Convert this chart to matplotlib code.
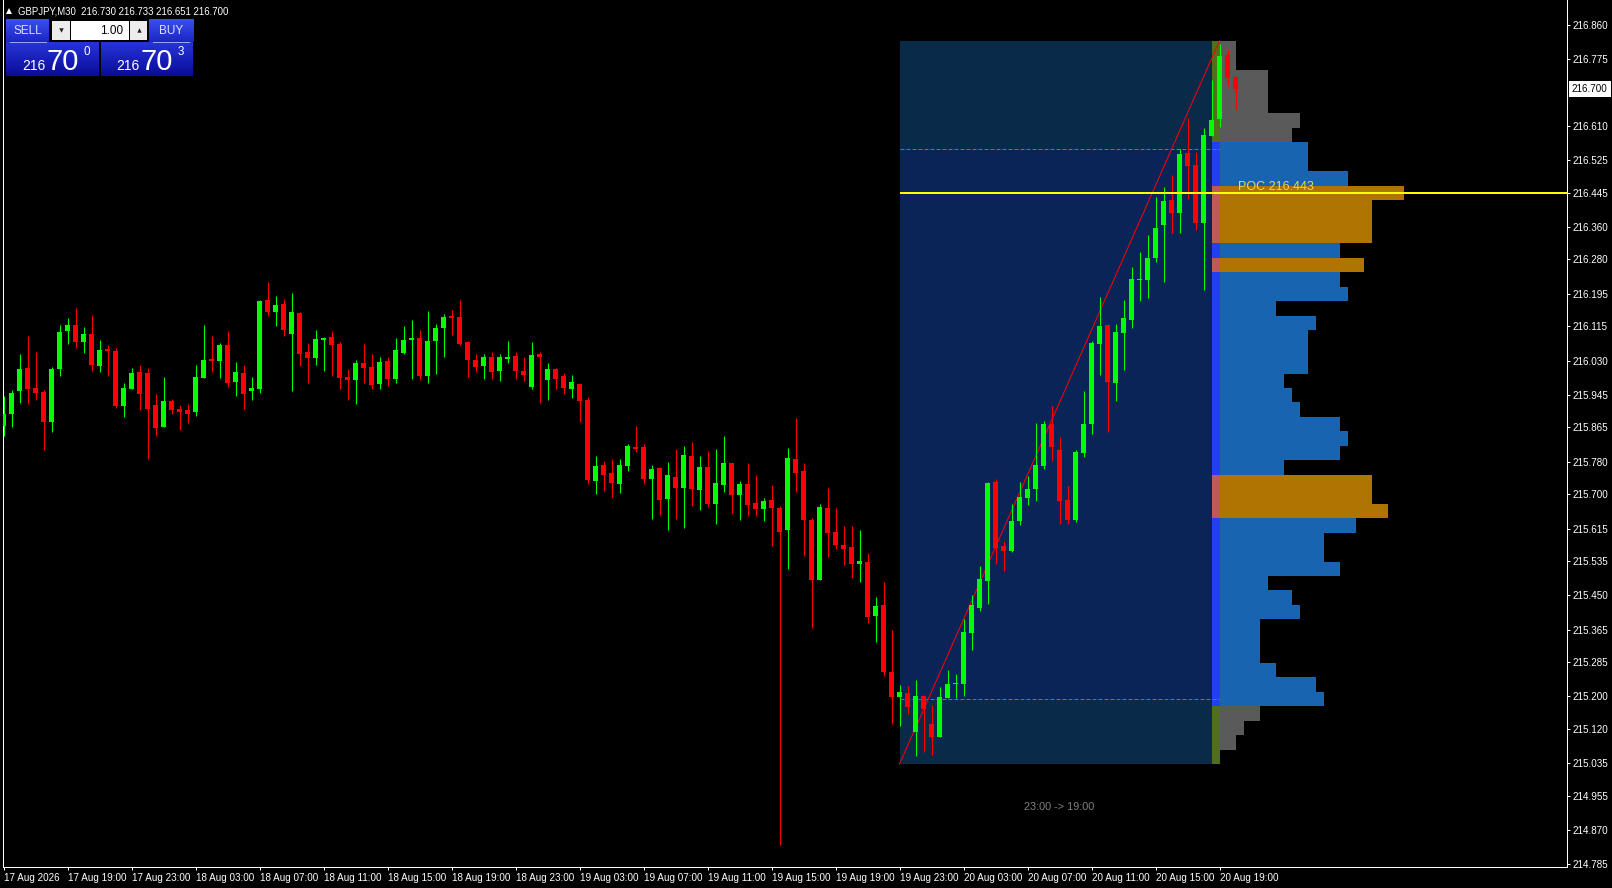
import matplotlib
matplotlib.use("Agg")
import matplotlib.pyplot as plt
import matplotlib.transforms as mtransforms
from matplotlib.patches import Rectangle
from matplotlib.colors import LinearSegmentedColormap
import numpy as np

plt.rcParams['font.family'] = ['Liberation Sans', 'DejaVu Sans']

# ---------------- data ----------------
symbol = "GBPJPY,M30"
last_ohlc = [216.730, 216.733, 216.651, 216.700]

opens = [215.868, 215.898, 215.955, 216.011, 215.962, 215.952, 215.878, 216.009, 216.103, 216.117,
         216.076, 216.095, 216.017, 216.058, 216.053, 215.918, 215.960, 216.001, 215.999, 215.920,
         215.866, 215.929, 215.910, 215.907, 215.903, 215.987, 216.033, 216.029, 216.068, 215.977,
         215.999, 215.955, 215.960, 216.179, 216.150, 216.169, 216.096, 216.147, 216.051, 216.037,
         216.082, 216.088, 216.071, 215.989, 215.983, 216.024, 216.014, 215.973, 216.029, 215.985,
         216.049, 216.082, 216.086, 215.993, 216.078, 216.110, 216.140, 216.138, 216.076, 216.031,
         216.017, 216.039, 216.005, 216.035, 216.041, 216.004, 215.965, 216.046, 215.983, 216.009,
         215.992, 215.960, 215.972, 215.932, 215.733, 215.772, 215.752, 215.725, 215.769, 215.816,
         215.816, 215.738, 215.764, 215.688, 215.742, 215.716, 215.794, 215.711, 215.767, 215.676,
         215.723, 215.777, 215.698, 215.725, 215.678, 215.664, 215.686, 215.666, 215.612, 215.786,
         215.757, 215.636, 215.488, 215.666, 215.607, 215.575, 215.570, 215.528, 215.533, 215.399,
         215.426, 215.261, 215.199, 215.208, 215.112, 215.201, 215.132, 215.100, 215.196, 215.230,
         215.231, 215.356, 215.418, 215.485, 215.730, 215.571, 215.559, 215.633, 215.690, 215.712,
         215.769, 215.873, 215.809, 215.685, 215.636, 215.802, 215.874, 216.072, 216.118, 215.975,
         216.099, 216.131, 216.228, 216.230, 216.284, 216.366, 216.427, 216.395, 216.543, 216.513,
         216.371, 216.585, 216.628, 216.785, 216.730]
highs = [215.942, 215.957, 216.046, 216.090, 216.051, 215.957, 216.013, 216.117, 216.135, 216.159,
         216.112, 216.142, 216.080, 216.068, 216.060, 215.974, 216.011, 216.018, 216.011, 215.947,
         215.989, 215.934, 215.920, 215.922, 216.018, 216.117, 216.090, 216.073, 216.102, 216.026,
         216.018, 215.989, 216.179, 216.224, 216.189, 216.182, 216.196, 216.150, 216.073, 216.105,
         216.088, 216.103, 216.076, 216.009, 216.031, 216.071, 216.046, 216.039, 216.039, 216.086,
         216.115, 216.130, 216.105, 216.152, 216.120, 216.145, 216.155, 216.180, 216.078, 216.046,
         216.046, 216.051, 216.046, 216.078, 216.051, 216.039, 216.076, 216.051, 216.024, 216.011,
         215.999, 215.994, 215.972, 215.940, 215.794, 215.781, 215.786, 215.786, 215.823, 215.868,
         215.823, 215.772, 215.767, 215.779, 215.811, 215.819, 215.828, 215.794, 215.806, 215.811,
         215.843, 215.777, 215.732, 215.777, 215.747, 215.691, 215.722, 215.671, 215.814, 215.889,
         215.777, 215.641, 215.676, 215.716, 215.666, 215.622, 215.622, 215.612, 215.555, 215.446,
         215.483, 215.365, 215.228, 215.225, 215.240, 215.203, 215.178, 215.223, 215.265, 215.255,
         215.392, 215.450, 215.522, 215.730, 215.737, 215.584, 215.675, 215.730, 215.744, 215.875,
         215.880, 215.917, 215.841, 215.720, 215.810, 215.954, 216.078, 216.187, 216.118, 216.120,
         216.180, 216.261, 216.298, 216.340, 216.434, 216.459, 216.489, 216.553, 216.629, 216.545,
         216.605, 216.723, 216.812, 216.798, 216.733]
lows = [215.844, 215.866, 215.925, 215.923, 215.933, 215.809, 215.854, 215.992, 216.071, 216.061,
        216.049, 216.004, 216.002, 215.992, 215.913, 215.891, 215.960, 215.908, 215.787, 215.844,
        215.866, 215.898, 215.859, 215.876, 215.893, 215.987, 216.002, 215.987, 215.965, 215.943,
        215.910, 215.933, 215.950, 216.140, 216.116, 216.091, 215.955, 216.017, 215.975, 216.020,
        216.005, 215.993, 215.960, 215.933, 215.923, 215.975, 215.960, 215.960, 215.968, 215.975,
        216.046, 215.985, 215.983, 215.975, 215.997, 216.039, 216.094, 216.069, 215.990, 216.002,
        215.985, 215.985, 215.980, 216.025, 215.985, 215.980, 215.960, 215.926, 215.933, 215.960,
        215.948, 215.938, 215.879, 215.725, 215.701, 215.708, 215.693, 215.703, 215.758, 215.805,
        215.725, 215.639, 215.649, 215.612, 215.639, 215.617, 215.671, 215.661, 215.669, 215.627,
        215.706, 215.654, 215.636, 215.646, 215.646, 215.634, 215.572, 214.832, 215.515, 215.706,
        215.547, 215.370, 215.488, 215.545, 215.565, 215.525, 215.493, 215.483, 215.382, 215.335,
        215.251, 215.132, 215.127, 215.157, 215.053, 215.063, 215.056, 215.100, 215.196, 215.196,
        215.201, 215.314, 215.411, 215.428, 215.528, 215.510, 215.556, 215.623, 215.673, 215.683,
        215.762, 215.781, 215.627, 215.627, 215.630, 215.792, 215.849, 215.995, 215.854, 215.931,
        216.007, 216.111, 216.178, 216.185, 216.274, 216.225, 216.346, 216.346, 216.430, 216.353,
        216.205, 216.585, 216.606, 216.709, 216.651]
closes = [215.899, 215.949, 216.009, 215.960, 215.950, 215.878, 216.009, 216.100, 216.117, 216.076,
          216.095, 216.019, 216.056, 216.054, 215.918, 215.962, 215.999, 215.948, 215.910, 215.864,
          215.929, 215.908, 215.903, 215.898, 215.989, 216.031, 216.029, 216.068, 215.975, 216.001,
          215.948, 215.962, 216.177, 216.150, 216.167, 216.106, 216.149, 216.046, 216.037, 216.083,
          216.086, 216.069, 215.988, 215.983, 216.024, 216.012, 215.970, 216.026, 215.985, 216.056,
          216.081, 216.086, 215.993, 216.078, 216.110, 216.138, 216.136, 216.072, 216.032, 216.014,
          216.039, 216.002, 216.039, 216.039, 216.005, 215.995, 216.044, 216.039, 216.009, 215.985,
          215.963, 215.977, 215.931, 215.736, 215.769, 215.747, 215.728, 215.772, 215.819, 215.812,
          215.737, 215.762, 215.686, 215.747, 215.716, 215.796, 215.713, 215.767, 215.676, 215.727,
          215.777, 215.698, 215.725, 215.673, 215.664, 215.683, 215.666, 215.607, 215.789, 215.753,
          215.636, 215.488, 215.669, 215.604, 215.575, 215.565, 215.528, 215.535, 215.397, 215.424,
          215.261, 215.199, 215.210, 215.173, 215.201, 215.168, 215.100, 215.198, 215.230, 215.233,
          215.359, 215.425, 215.490, 215.727, 215.567, 215.560, 215.633, 215.692, 215.712, 215.772,
          215.873, 215.816, 215.683, 215.636, 215.804, 215.873, 216.073, 216.115, 215.978, 216.100,
          216.135, 216.231, 216.231, 216.283, 216.357, 216.424, 216.395, 216.540, 216.512, 216.371,
          216.587, 216.624, 216.783, 216.729, 216.700]

xtick_labels = ["17 Aug 2026", "17 Aug 19:00", "17 Aug 23:00", "18 Aug 03:00", "18 Aug 07:00",
                "18 Aug 11:00", "18 Aug 15:00", "18 Aug 19:00", "18 Aug 23:00", "19 Aug 03:00",
                "19 Aug 07:00", "19 Aug 11:00", "19 Aug 15:00", "19 Aug 19:00", "19 Aug 23:00",
                "20 Aug 03:00", "20 Aug 07:00", "20 Aug 11:00", "20 Aug 15:00", "20 Aug 19:00"]
bars_per_label = 8
ytick_values = [216.860, 216.775, 216.610, 216.525, 216.445, 216.360, 216.280, 216.195, 216.115,
                216.030, 215.945, 215.865, 215.780, 215.700, 215.615, 215.535, 215.450, 215.365,
                215.285, 215.200, 215.120, 215.035, 214.955, 214.870, 214.785]

profile_start = 112          # bar index of 19 Aug 23:00
profile_end = 152            # bar index of 20 Aug 19:00
profile_high = 216.820
profile_low = 215.033
profile_counts = [2, 2, 6, 6, 6, 10, 9, 11, 11, 16, 23, 19, 19, 19, 15, 18, 15, 16, 7, 12,
                  11, 11, 11, 8, 9, 10, 15, 16, 15, 8, 19, 19, 21, 17, 13, 13, 15, 6, 9, 10,
                  5, 5, 5, 7, 12, 13, 5, 3, 2, 0]
value_area_high = 216.552
value_area_low = 215.194
poc_price = 216.443
hvn_threshold = 18
session_label = "23:00 -> 19:00"

lot_size = "1.00"
bid_parts = ("216", "70", "0")
ask_parts = ("216", "70", "3")

# ---------------- figure ----------------
W, H = 1612, 888
fig = plt.figure(figsize=(W / 100, H / 100), dpi=100, facecolor="black")
ax = fig.add_axes([2.5 / W, 1 - 866.5 / H, 1564 / W, 866.5 / H])
ax.set_facecolor("black")

n = len(opens)
idx = np.arange(n)
o = np.array(opens); h = np.array(highs); l = np.array(lows); c = np.array(closes)

ax.set_xlim(-0.125, 195.375)
ax.set_ylim(214.7798, 216.921)

# spines
for s in ["left", "right", "bottom"]:
    ax.spines[s].set_color("white")
    ax.spines[s].set_linewidth(0.72)
ax.spines["top"].set_visible(False)

# y axis on the right
ax.yaxis.tick_right()
ax.set_yticks(ytick_values)
ax.set_yticklabels([f"{v:.3f}" for v in ytick_values])
ax.tick_params(axis="y", direction="out", length=2.2, width=0.72, colors="white",
               pad=2.0, labelsize=7.1, left=False, right=True)

# x axis
ax.set_xticks(np.arange(0, n, bars_per_label))
ax.set_xticklabels(xtick_labels)
ax.tick_params(axis="x", direction="out", length=2.2, width=0.72, colors="white",
               pad=2.6, labelsize=7.1)
offset = mtransforms.ScaledTranslation(1 / 100, 0, fig.dpi_scale_trans)
for lbl in ax.get_xticklabels():
    lbl.set_horizontalalignment("left")
    lbl.set_transform(lbl.get_transform() + offset)

# ---------------- volume profile ----------------
nb = len(profile_counts)
bin_h = (profile_high - profile_low) / nb
bin_centers = profile_high - bin_h * (np.arange(nb) + 0.5)
counts = np.array(profile_counts)
in_va = (bin_centers <= value_area_high + bin_h / 4) & (bin_centers >= value_area_low - bin_h / 4)
hvn = counts >= hvn_threshold

hist_colors = np.where(~in_va, "#5a5a5a", np.where(hvn, "#b07400", "#1964b0"))
stripe_colors = np.where(~in_va, "#506e1e", np.where(hvn, "#be5a5a", "#2340f0"))

box_w = profile_end - 1 - profile_start
ax.add_patch(Rectangle((profile_start, value_area_high), box_w, profile_high - value_area_high,
                       facecolor="#0a2a4a", edgecolor="none", zorder=1))
ax.add_patch(Rectangle((profile_start, value_area_low), box_w, value_area_high - value_area_low,
                       facecolor="#0a2458", edgecolor="none", zorder=1))
ax.add_patch(Rectangle((profile_start, profile_low), box_w, value_area_low - profile_low,
                       facecolor="#0a2a4a", edgecolor="none", zorder=1))

ax.barh(bin_centers, np.ones(nb), height=bin_h, left=profile_end - 1, color=stripe_colors,
        edgecolor="none", linewidth=0, antialiased=False, zorder=2)
ax.barh(bin_centers, counts, height=bin_h, left=profile_end, color=hist_colors,
        edgecolor="none", linewidth=0, antialiased=False, zorder=2)

ax.hlines([value_area_high, value_area_low], profile_start, profile_end, colors="#2f7fd8",
          linewidth=0.72, linestyles=(0, (4, 2)), zorder=3)

ax.plot([profile_start, profile_end], [profile_low, profile_high], color="#ff0000",
        linewidth=0.72, zorder=3)

# ---------------- candles ----------------
up = c >= o
cols = np.where(up, "#00ff00", "#ff0000")
ax.vlines(idx, l, h, colors=cols, linewidth=0.8, zorder=4)
body_bottom = np.minimum(o, c)
body_h = np.maximum(np.abs(c - o), 0.0025)
ax.bar(idx, body_h, bottom=body_bottom, width=0.625, color=cols, edgecolor="none",
       linewidth=0, zorder=5)

# ---------------- POC ----------------
ax.hlines(poc_price, profile_start, ax.get_xlim()[1], colors="#ffff00", linewidth=1.44, zorder=6)
ax.text(profile_end + 2.35, poc_price + 0.0085, f"POC {poc_price:.3f}", color="#e6dc46",
        fontsize=9, ha="left", va="baseline", zorder=7)

ax.text((profile_start + profile_end) / 2, profile_low - 0.106, session_label, color="#808080",
        fontsize=7.8, ha="center", va="center", zorder=7)

# current price label
ax.annotate(f"{last_ohlc[3]:.3f}", xy=(1, last_ohlc[3]), xycoords=("axes fraction", "data"),
            xytext=(3.9, 0), textcoords="offset points", ha="left", va="center",
            fontsize=7.1, color="black", annotation_clip=False,
            bbox=dict(boxstyle="square,pad=0.3", fc="white", ec="none"))

# ---------------- overlay: header and trade panel ----------------
ov = fig.add_axes([0, 0, 1, 1], zorder=20)
ov.axis("off")


def grad_rect(x0, x1, y0, y1, c_top, c_bot):
    cmap = LinearSegmentedColormap.from_list("g", [c_top, c_bot])
    g = np.linspace(0, 1, 64).reshape(-1, 1)
    ov.imshow(g, extent=[x0, x1, y1, y0], cmap=cmap, aspect="auto",
              interpolation="bilinear", zorder=1)


ov.plot(9.3, 11.5, marker="^", markersize=4.2, color="white", markeredgewidth=0)
ov.text(18, 11, f"{symbol}  " + " ".join(f"{v:.3f}" for v in last_ohlc), color="white",
        fontsize=6.9, ha="left", va="center")

# buttons
grad_rect(6, 49, 20, 42.5, "#3a50ee", "#1a26c4")
grad_rect(148.5, 193, 20, 42.5, "#3a50ee", "#1a26c4")
grad_rect(6, 99, 42.5, 76, "#2634d8", "#0a0c98")
grad_rect(101, 193, 42.5, 76, "#2634d8", "#0a0c98")

# lot control
ov.add_patch(Rectangle((52, 21.5), 18, 19, facecolor="#ececec", edgecolor="none", zorder=2))
ov.add_patch(Rectangle((71, 21.5), 58, 19, facecolor="white", edgecolor="none", zorder=2))
ov.add_patch(Rectangle((130, 21.5), 17, 19, facecolor="#ececec", edgecolor="none", zorder=2))
ov.plot(61, 30.5, marker="v", markersize=3.2, color="#202020", markeredgewidth=0, zorder=3)
ov.plot(138.5, 30, marker="^", markersize=3.2, color="#202020", markeredgewidth=0, zorder=3)
ov.text(123, 31, lot_size, ha="right", va="center", fontsize=8.5, color="black", zorder=3)

ov.text(27.5, 31, "SELL", ha="center", va="center", fontsize=8.5, color="#dce0ff", zorder=3)
ov.plot([10, 45.7], [42, 42], color="#9aa4f4", linewidth=0.72, zorder=3)
ov.text(171, 31, "BUY", ha="center", va="center", fontsize=8.5, color="#dce0ff", zorder=3)
ov.plot([153, 188.7], [42, 42], color="#9aa4f4", linewidth=0.72, zorder=3)

for (big_x, parts) in [(22.7, bid_parts), (116.7, ask_parts)]:
    ov.text(big_x, 70, parts[0], ha="left", va="baseline", fontsize=10, color="white", zorder=3)
    ov.text(big_x + 24, 70, parts[1], ha="left", va="baseline", fontsize=21, color="white", zorder=3)
    ov.text(big_x + 61, 55, parts[2], ha="left", va="baseline", fontsize=8.4, color="white", zorder=3)

ov.set_xlim(0, W)
ov.set_ylim(H, 0)

fig.savefig("out.png", dpi=100, facecolor="black")
